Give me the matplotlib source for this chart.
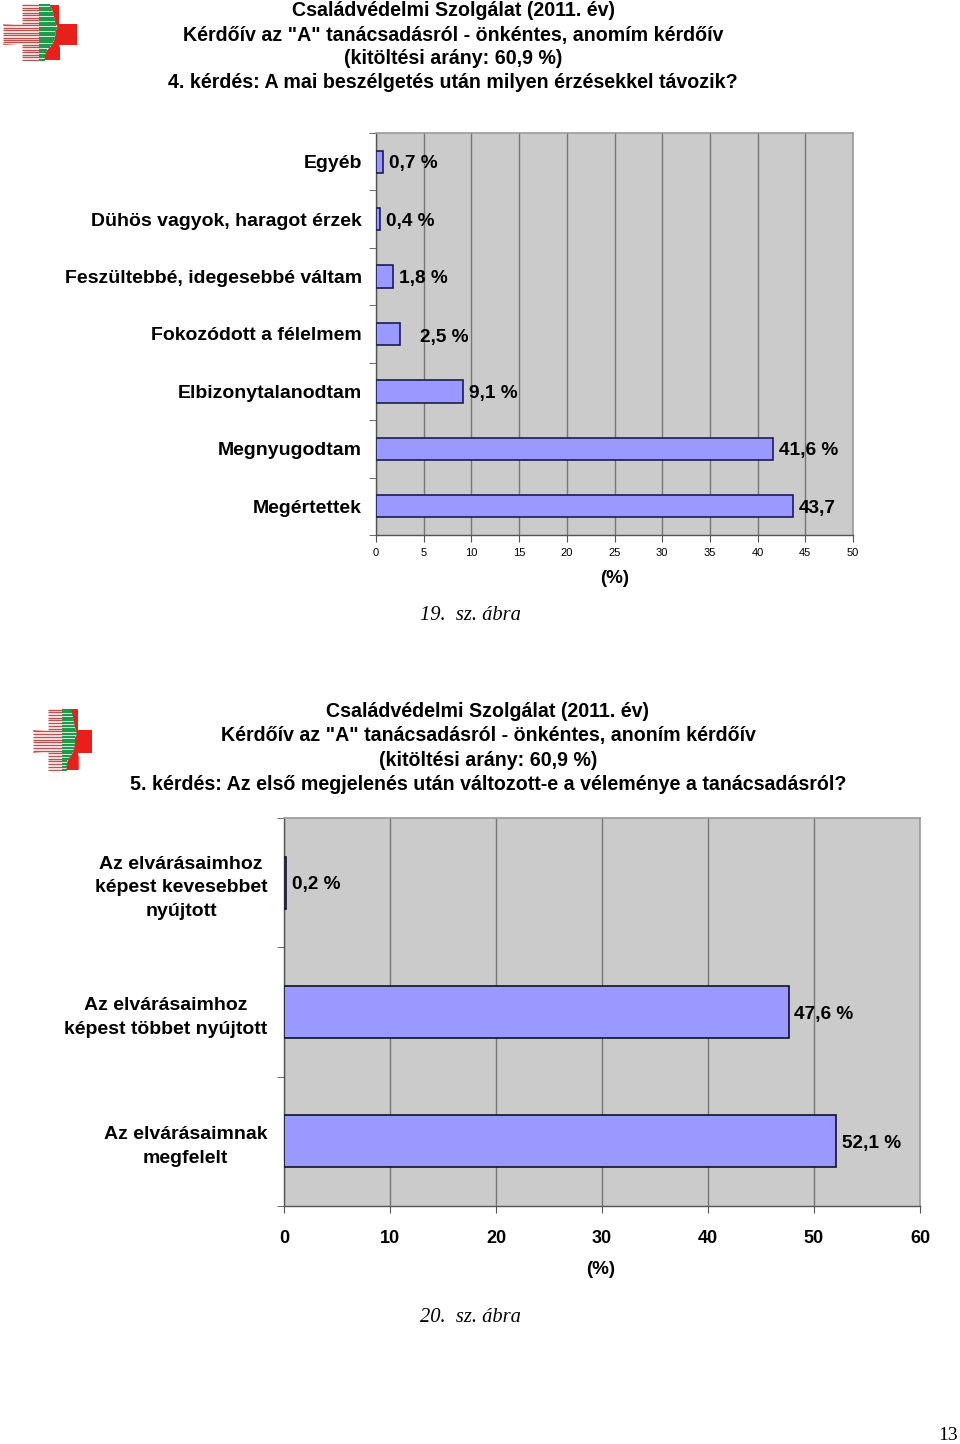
import numpy as np
import matplotlib
matplotlib.use("Agg")
import matplotlib.pyplot as plt
from matplotlib.patches import Rectangle, Polygon

# ---------------- data ----------------
q4_categories = ["Egyéb", "Dühös vagyok, haragot érzek", "Feszültebbé, idegesebbé váltam",
                 "Fokozódott a félelmem", "Elbizonytalanodtam", "Megnyugodtam", "Megértettek"]
q4_values = [0.7, 0.4, 1.8, 2.5, 9.1, 41.6, 43.7]
q4_labels = ["0,7 %", "0,4 %", "1,8 %", "2,5 %", "9,1 %", "41,6 %", "43,7"]
q4_ticks = [0, 5, 10, 15, 20, 25, 30, 35, 40, 45, 50]

q5_categories = ["Az elvárásaimhoz\nképest kevesebbet\nnyújtott",
                 "Az elvárásaimhoz\nképest többet nyújtott",
                 "Az elvárásaimnak\nmegfelelt"]
q5_values = [0.2, 47.6, 52.1]
q5_labels = ["0,2 %", "47,6 %", "52,1 %"]
q5_ticks = [0, 10, 20, 30, 40, 50, 60]

title_common = ["Családvédelmi Szolgálat (2011. év)"]
title1 = title_common + ['Kérdőív az "A" tanácsadásról - önkéntes, anomím kérdőív',
                         "(kitöltési arány: 60,9 %)",
                         "4. kérdés: A mai beszélgetés után milyen érzésekkel távozik?"]
title2 = title_common + ['Kérdőív az "A" tanácsadásról - önkéntes, anoním kérdőív',
                         "(kitöltési arány: 60,9 %)",
                         "5. kérdés: Az első megjelenés után változott-e a véleménye a tanácsadásról?"]

# ---------------- figure ----------------
W, H = 960, 1444
fig = plt.figure(figsize=(W / 100, H / 100), dpi=100)
fig.patch.set_facecolor("white")
SANS = ["Liberation Sans", "DejaVu Sans"]
SERIF = ["Liberation Serif", "DejaVu Serif"]


def fx(px):
    return px / W


def fy(py):
    return 1 - py / H


def add_axes_px(left, top, right, bottom):
    return fig.add_axes([fx(left), fy(bottom), (right - left) / W, (bottom - top) / H])


def draw_logo(left, top, w, h):
    ax = add_axes_px(left, top, left + w, top + h)
    ax.set_xlim(0, 80)
    ax.set_ylim(60, 0)
    ax.axis("off")
    red = "#e8201c"
    ax.add_patch(Rectangle((42, 1), 17, 58, color=red, lw=0))
    ax.add_patch(Rectangle((0, 21), 78, 22, color=red, lw=0))
    prof_y = [1, 7, 15, 22, 25, 28, 33, 38, 44, 49, 54, 59]
    prof_x = [49, 52, 54, 56, 58, 55, 55, 54, 51, 46, 44, 44]
    rows = np.arange(1.5, 59, 2.6)
    pts_left = []
    pts_right = []
    for y in np.linspace(1, 59, 60):
        x0 = 0 if 21 <= y <= 43 else 20
        pts_left.append((x0, y))
        pts_right.append((np.interp(y, prof_y, prof_x), y))
    ax.add_patch(Polygon(pts_left + pts_right[::-1], closed=True, color="white", lw=0))
    for y in rows:
        x0 = 0 if 21 <= y <= 43 else 20
        xp = np.interp(y, prof_y, prof_x)
        ax.plot([x0, 38], [y, y], color="#c0504d", lw=1.0, solid_capstyle="butt")
        ax.plot([38, xp], [y, y], color="#1f9a48", lw=1.6, solid_capstyle="butt")
    ax.add_patch(Polygon([(44, 59), (46, 52), (52, 47), (60, 45), (60, 59)], closed=True,
                         color=red, lw=0))


def draw_titles(lines, cx, ys):
    for line, y in zip(lines, ys):
        fig.text(fx(cx), fy(y), line, ha="center", va="center", fontsize=14.1,
                 fontweight="bold", family=SANS, color="black")


def style_axes(ax, ticks, ncat, tick_fs, tick_weight):
    ax.set_facecolor("#cbcbcb")
    ax.set_xlim(ticks[0], ticks[-1])
    ax.set_ylim(ncat - 0.5, -0.5)
    ax.set_xticks(ticks)
    ax.set_xticklabels([str(t) for t in ticks], fontsize=tick_fs, family=SANS,
                       fontweight=tick_weight)
    ax.set_yticks(np.arange(ncat + 1) - 0.5, minor=True)
    ax.set_yticks(np.arange(ncat))
    ax.tick_params(axis="y", which="major", length=0)
    ax.tick_params(axis="y", which="minor", length=5, color="#555555", direction="out")
    ax.tick_params(axis="x", length=5, color="#555555", direction="out", pad=4)
    ax.grid(axis="x", color="#777777", lw=1.0)
    ax.set_axisbelow(True)
    for s in ["top", "right"]:
        ax.spines[s].set_color("#9a9a9a")
        ax.spines[s].set_linewidth(1.2)
    for s in ["left", "bottom"]:
        ax.spines[s].set_color("#555555")
        ax.spines[s].set_linewidth(1.0)


# ---------------- chart 1 ----------------
draw_logo(3, 4, 76, 57)
draw_titles(title1, 453, [11, 35, 59, 83])

ax1 = add_axes_px(376, 133, 853, 535)
style_axes(ax1, q4_ticks, len(q4_categories), 8, "normal")
y1 = np.arange(len(q4_categories))
ax1.barh(y1, q4_values, height=0.39, color="#9999ff", edgecolor="#1c1c50", lw=1.2, zorder=3)
ax1.set_yticklabels(q4_categories, fontsize=14, fontweight="bold", family=SANS)
ax1.tick_params(axis="y", which="major", pad=10)
nudge1 = [0, 0, 0, 1.5, 0, 0, 0]
for yi, v, lab, nd in zip(y1, q4_values, q4_labels, nudge1):
    ax1.text(v + 0.65 + nd, yi + (0.03 if nd else 0), lab, va="center_baseline", ha="left",
             fontsize=13.7, fontweight="bold", family=SANS, zorder=4)
fig.text(fx(614.5), fy(578), "(%)", ha="center", va="center", fontsize=13.5,
         fontweight="bold", family=SANS)
fig.text(fx(420), fy(615), "19.  sz. ábra", ha="left", va="center", fontsize=14.8,
         style="italic", family=SERIF)

# ---------------- chart 2 ----------------
draw_logo(33, 708, 61, 63)
draw_titles(title2, 488, [712, 736, 760, 785])

ax2 = add_axes_px(284, 818, 920, 1206)
style_axes(ax2, q5_ticks, len(q5_categories), 13, "bold")
y2 = np.arange(len(q5_categories))
ax2.barh(y2, q5_values, height=0.4, color="#9999ff", edgecolor="#111122", lw=1.2, zorder=3)
ax2.set_yticklabels(q5_categories, fontsize=14, fontweight="bold", family=SANS,
                    multialignment="center", linespacing=1.5)
ax2.tick_params(axis="y", which="major", pad=12)
ax2.tick_params(axis="x", pad=12)
for yi, v, lab in zip(y2, q5_values, q5_labels):
    ax2.text(v + 0.55, yi, lab, va="center_baseline", ha="left", fontsize=13.7,
             fontweight="bold", family=SANS, zorder=4)
fig.text(fx(601), fy(1270), "(%)", ha="center", va="center", fontsize=13.5,
         fontweight="bold", family=SANS)
fig.text(fx(420), fy(1317), "20.  sz. ábra", ha="left", va="center", fontsize=14.8,
         style="italic", family=SERIF)

fig.text(fx(958), fy(1436), "13", ha="right", va="center", fontsize=14, family=SERIF)

fig.savefig("out.png", dpi=100, facecolor="white")
